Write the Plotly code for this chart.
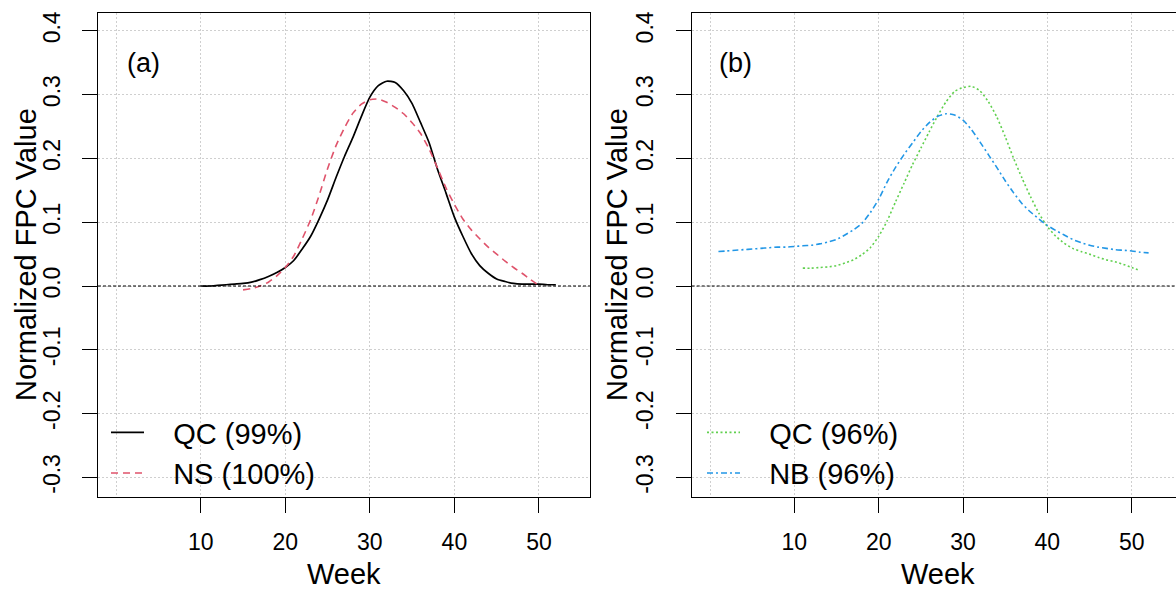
import plotly.graph_objects as go

# ---------------- data ----------------
weeks_qc99 = list(range(10, 53))
qc99 = [0.000, 0.000, 0.001, 0.002, 0.003, 0.004, 0.006, 0.010, 0.015, 0.021,
        0.029, 0.040, 0.058, 0.078, 0.105, 0.135, 0.170, 0.203, 0.233, 0.266,
        0.296, 0.314, 0.321, 0.319, 0.306, 0.286, 0.256, 0.225, 0.183, 0.146,
        0.108, 0.078, 0.051, 0.032, 0.020, 0.011, 0.007, 0.004, 0.003, 0.003,
        0.003, 0.002, 0.002]

weeks_ns = list(range(15, 51))
ns100 = [-0.006, -0.004, 0.000, 0.006, 0.016, 0.029, 0.047, 0.074, 0.104, 0.142,
         0.184, 0.220, 0.248, 0.271, 0.285, 0.292, 0.293, 0.288, 0.280, 0.270,
         0.256, 0.239, 0.215, 0.185, 0.154, 0.128, 0.105, 0.088, 0.074, 0.061,
         0.050, 0.039, 0.029, 0.020, 0.010, 0.001]

weeks_qc96 = list(range(11, 52))
qc96 = [0.028, 0.028, 0.029, 0.030, 0.032, 0.036, 0.041, 0.049, 0.060, 0.078,
        0.102, 0.132, 0.161, 0.190, 0.216, 0.242, 0.267, 0.289, 0.305, 0.311,
        0.313, 0.306, 0.289, 0.265, 0.234, 0.200, 0.169, 0.140, 0.114, 0.093,
        0.078, 0.067, 0.059, 0.054, 0.050, 0.045, 0.041, 0.038, 0.034, 0.029,
        0.024]

weeks_nb = list(range(1, 53))
nb96 = [0.054, 0.055, 0.056, 0.057, 0.058, 0.059, 0.060, 0.061, 0.061, 0.062,
        0.063, 0.064, 0.066, 0.069, 0.073, 0.080, 0.088, 0.098, 0.115, 0.136,
        0.163, 0.186, 0.206, 0.224, 0.242, 0.256, 0.266, 0.270, 0.268, 0.260,
        0.245, 0.226, 0.206, 0.186, 0.165, 0.146, 0.129, 0.116, 0.105, 0.095,
        0.087, 0.080, 0.073, 0.068, 0.064, 0.061, 0.059, 0.057, 0.056, 0.055,
        0.053, 0.052]

x_ticks = [10, 20, 30, 40, 50]
y_ticks = [-0.3, -0.2, -0.1, 0.0, 0.1, 0.2, 0.3, 0.4]
y_ticktext = ["-0.3", "-0.2", "-0.1", "0.0", "0.1", "0.2", "0.3", "0.4"]

# ---------------- styling ----------------
FONT = "Liberation Sans, Arial, Helvetica, sans-serif"
W, H = 1176, 589
RED = "#DF536B"
GREEN = "#61D04F"
BLUE = "#2297E6"
GRID = "#cfcfcf"

fig = go.Figure()

fig.add_trace(go.Scatter(x=weeks_qc99, y=qc99, mode="lines", name="   QC (99%)",
                         line=dict(color="black", width=1.7, shape="spline", smoothing=0.6),
                         xaxis="x", yaxis="y", legend="legend"))
fig.add_trace(go.Scatter(x=weeks_ns, y=ns100, mode="lines", name="   NS (100%)",
                         line=dict(color=RED, width=1.6, dash="7px,5px", shape="spline", smoothing=0.6),
                         xaxis="x", yaxis="y", legend="legend"))
fig.add_trace(go.Scatter(x=weeks_qc96, y=qc96, mode="lines", name="   QC (96%)",
                         line=dict(color=GREEN, width=1.6, dash="2px,2.5px", shape="spline", smoothing=0.6),
                         xaxis="x2", yaxis="y2", legend="legend2"))
fig.add_trace(go.Scatter(x=weeks_nb, y=nb96, mode="lines", name="   NB (96%)",
                         line=dict(color=BLUE, width=1.6, dash="6px,3px,2px,3px", shape="spline", smoothing=0.6),
                         xaxis="x2", yaxis="y2", legend="legend2"))

ydom = [1 - 497 / H, 1 - 12.7 / H]
xdom1 = [98 / W, 590 / W]
xdom2 = [691.7 / W, 1.0]

def xaxis(domain, rng, mirror):
    return dict(domain=domain, range=rng, tickvals=x_ticks, ticks="outside", ticklen=15,
                tickwidth=1.3, tickcolor="black", showline=True, linecolor="black",
                linewidth=1.3, mirror=mirror, zeroline=False,
                showgrid=True, gridcolor=GRID, griddash="2px,2px", gridwidth=1,
                minor=dict(tickvals=[0], showgrid=True, gridcolor=GRID,
                           griddash="2px,2px", gridwidth=1, ticks=""),
                tickfont=dict(family=FONT, size=23, color="black"),
                ticklabelstandoff=9, automargin=False, fixedrange=True)

def yaxis(anchor, mirror):
    return dict(domain=ydom, range=[-0.3307, 0.4284], anchor=anchor, tickvals=y_ticks,
                ticktext=y_ticktext, tickangle=-90, ticks="outside", ticklen=15,
                tickwidth=1.3, tickcolor="black", showline=True, linecolor="black",
                linewidth=1.3, mirror=mirror, zeroline=False,
                showgrid=True, gridcolor=GRID, griddash="2px,2px", gridwidth=1,
                tickfont=dict(family=FONT, size=23, color="black"),
                ticklabelstandoff=13, automargin=False, fixedrange=True)

fig.update_layout(
    width=W, height=H, margin=dict(l=0, r=0, t=0, b=0),
    paper_bgcolor="white", plot_bgcolor="white",
    font=dict(family=FONT, color="black"),
    xaxis=xaxis(xdom1, [-2.154, 56.04], True),
    yaxis=yaxis("x", True),
    xaxis2=xaxis(xdom2, [-2.17, 55.25], True),
    yaxis2=yaxis("x2", False),
    legend=dict(x=106 / W, y=1 - 407 / H, xanchor="left", yanchor="top",
                bgcolor="rgba(0,0,0,0)", font=dict(family=FONT, size=29, color="black"),
                itemwidth=33, tracegroupgap=0),
    legend2=dict(x=702 / W, y=1 - 407 / H, xanchor="left", yanchor="top",
                 bgcolor="rgba(0,0,0,0)", font=dict(family=FONT, size=29, color="black"),
                 itemwidth=33, tracegroupgap=0),
    showlegend=True,
)

# horizontal reference line at 0
for xr, yr in (("x domain", "y"), ("x2 domain", "y2")):
    fig.add_shape(type="line", xref=xr, yref=yr, x0=0, x1=1, y0=0, y1=0,
                  line=dict(color="black", width=1.2, dash="3px,2px"))

# panel labels
for txt, cx in (("(a)", 143.5), ("(b)", 735)):
    fig.add_annotation(text=txt, xref="paper", yref="paper", x=cx / W, y=1 - 63 / H,
                       xanchor="center", yanchor="middle", showarrow=False,
                       font=dict(family=FONT, size=27, color="black"))

# axis titles
for cx in (344, 938):
    fig.add_annotation(text="Week", xref="paper", yref="paper", x=cx / W, y=1 - 574 / H,
                       xanchor="center", yanchor="middle", showarrow=False,
                       font=dict(family=FONT, size=29, color="black"))
for cx in (26, 617):
    fig.add_annotation(text="Normalized FPC Value", xref="paper", yref="paper",
                       x=cx / W, y=1 - 255 / H, textangle=-90, xanchor="center",
                       yanchor="middle", showarrow=False,
                       font=dict(family=FONT, size=29, color="black"))

fig.write_html("out.html", config={"displayModeBar": False},
               post_script="document.body.style.margin='0';document.body.style.overflow='hidden';")
